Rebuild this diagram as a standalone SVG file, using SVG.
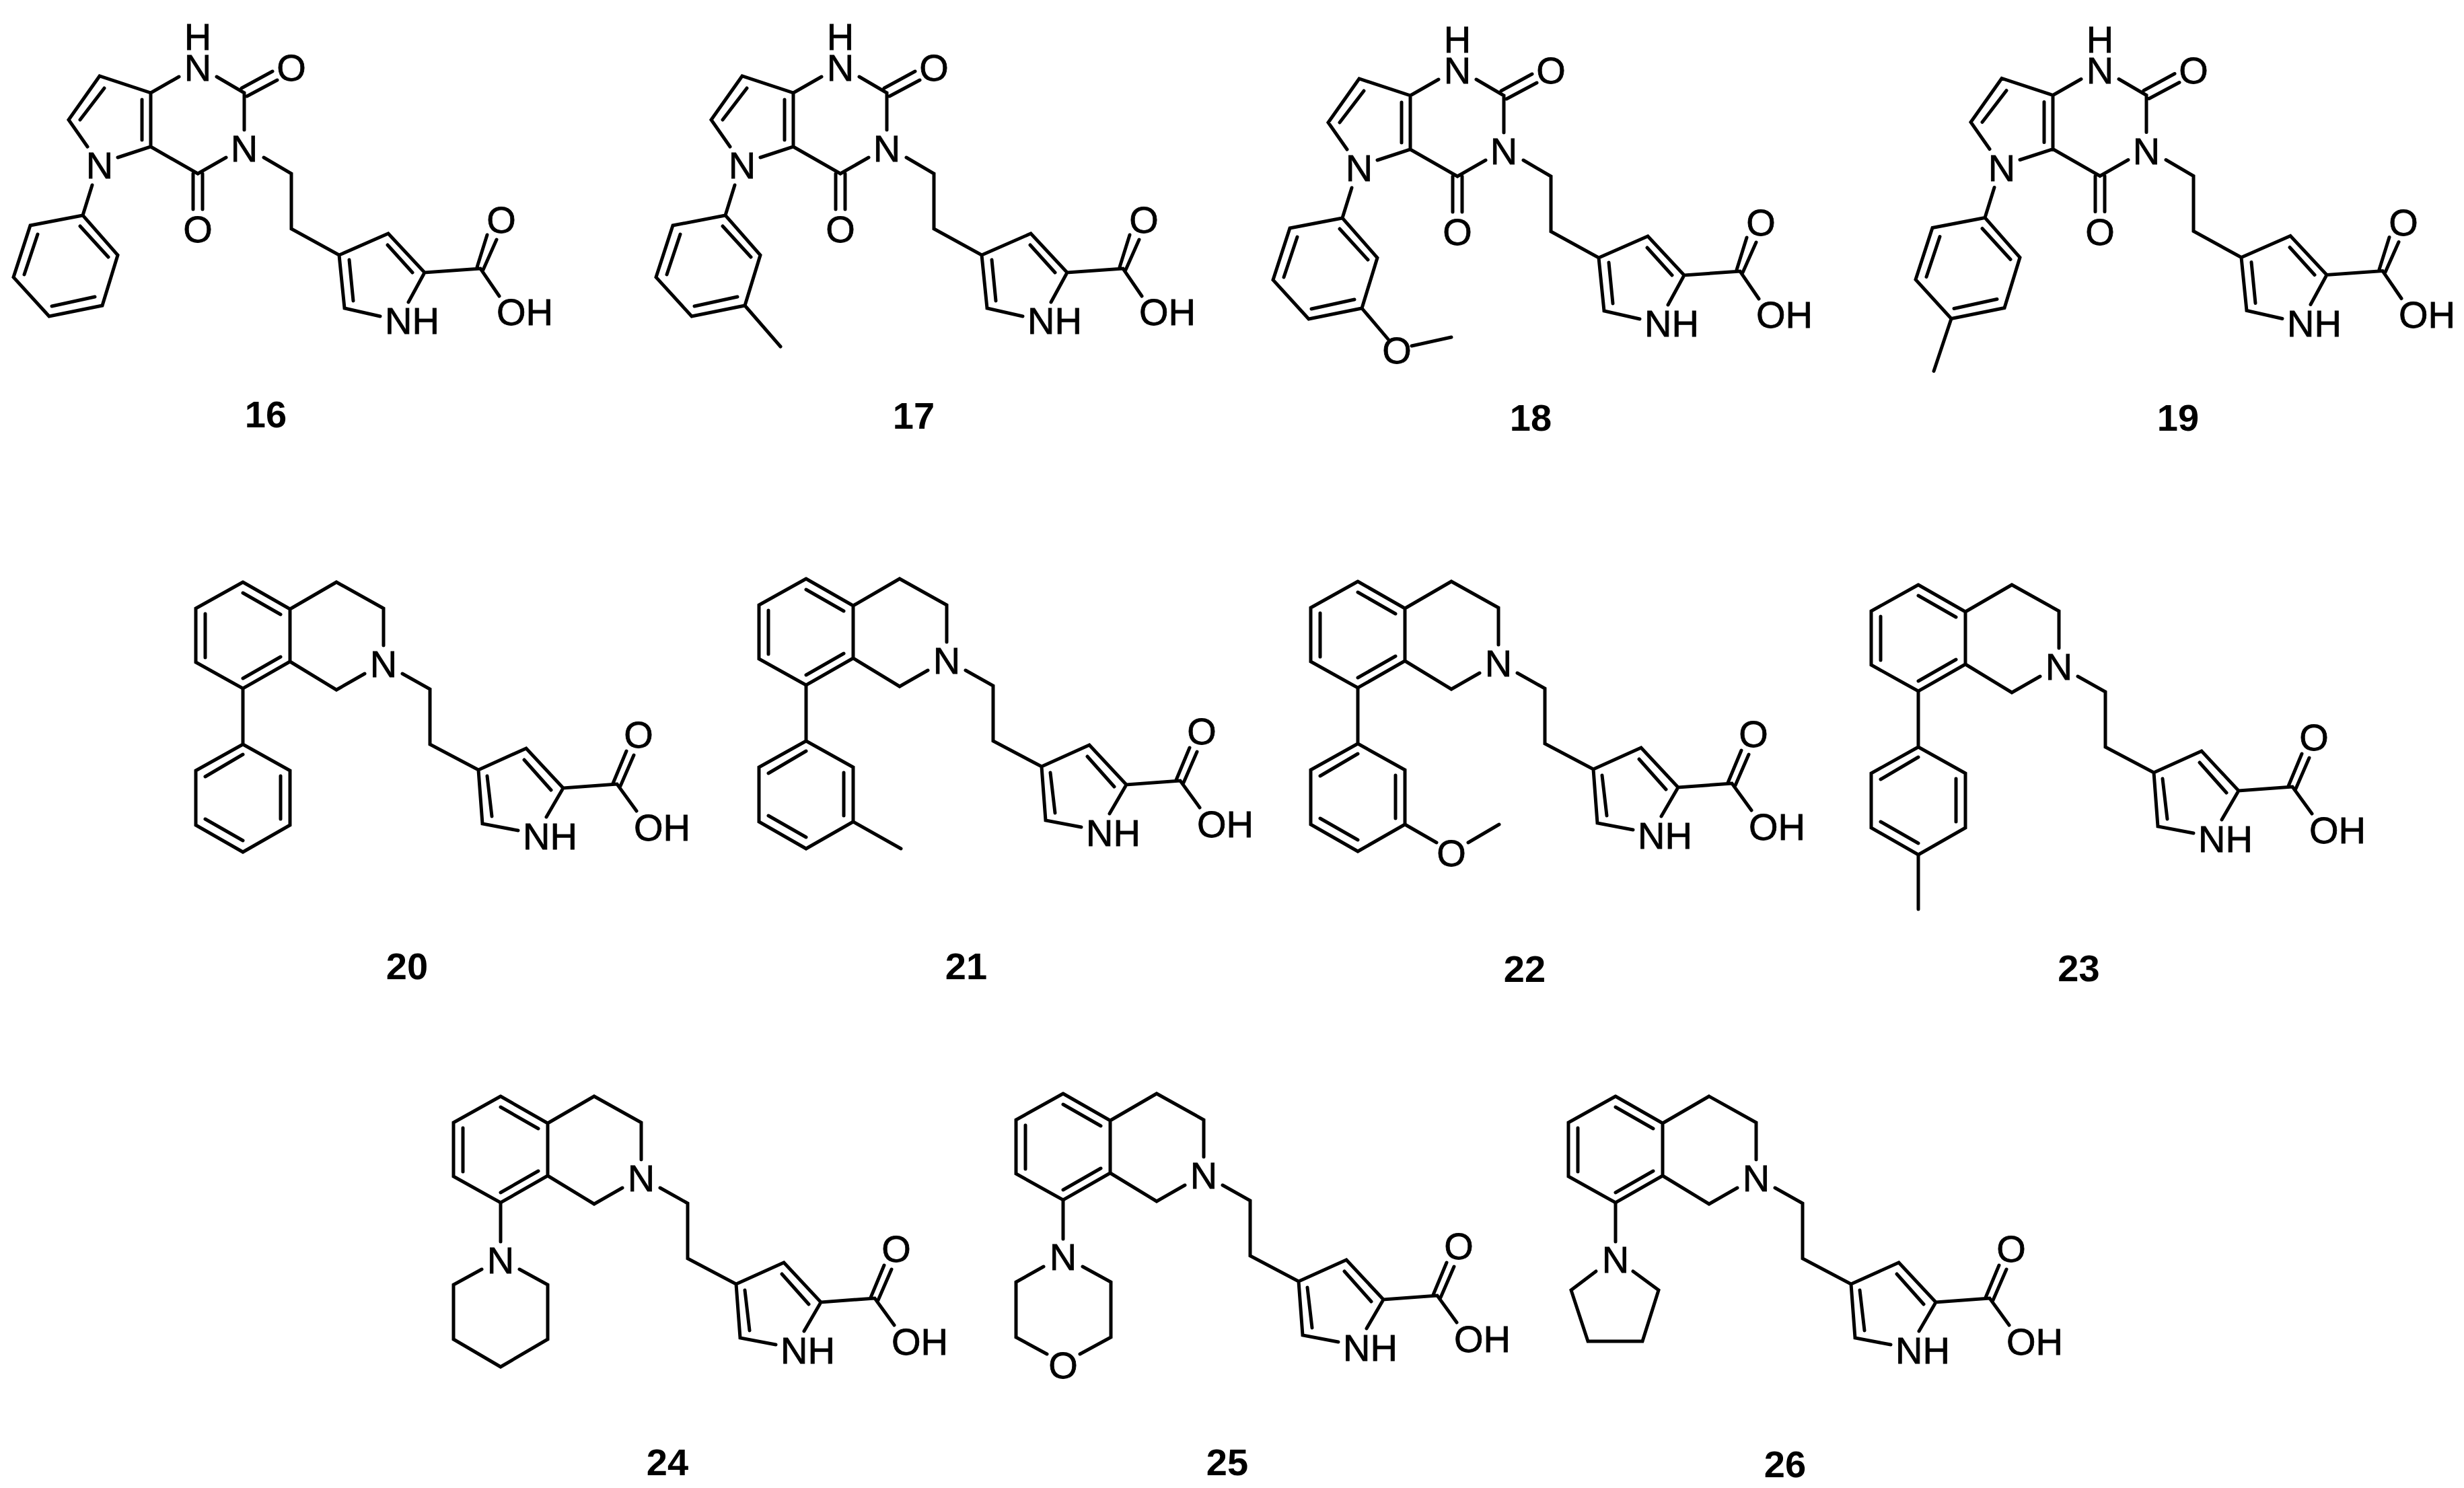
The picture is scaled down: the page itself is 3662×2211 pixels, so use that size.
<svg xmlns="http://www.w3.org/2000/svg" xmlns:xlink="http://www.w3.org/1999/xlink" width="3662" height="2211" viewBox="0 0 3662 2211">
<style>
.b{fill:none;stroke:#000;stroke-width:5;stroke-linecap:round;stroke-linejoin:miter}
text{font-family:"Liberation Sans",Arial,sans-serif;fill:#000}
.a{font-size:56px;text-anchor:middle;stroke:#000;stroke-width:.8px}
.s{font-size:56px;text-anchor:start;stroke:#000;stroke-width:.8px}
.l{font-size:56px;font-weight:bold;text-anchor:middle}
</style>
<defs>
<path id="coreA" d="M130 218L102 178L148 113L224 138L224 218L175 234M155 131L119 178M224 138L266 114M322 114L363 138L363 193M211 148L211 208M359 131L405 106M367 143L412 119M336 234L294 258L224 218M287 258L287 311M301 258L301 311M392 234L433 258L433 340L504 379L577 347L631 405L714 399L742 440M504 379L512 458L565 470M631 405L607 449M576 364L613 405M519 386L525 447M709 397L724 349M718 401L738 356M137 275L123 320L175 379L152 454L73 470L20 412L45 335L123 320M119 336L161 382M141 441L77 455M36 408L56 348"/>
<path id="coreB" d="M361 865L431 905L431 983L361 1023L291 984L291 904L361 865M361 881L417 913M417 976L361 1008M305 912L305 977M431 905L500 865L570 904L570 959M431 983L500 1025L542 1001M598 1001L639 1024L639 1106L711 1144L782 1112L837 1171L917 1165L946 1205M711 1144L717 1224L770 1234M837 1171L812 1214M779 1129L819 1174M724 1153L731 1213M911 1164L931 1116M922 1168L942 1122"/>
<path id="arylB" d="M361 1023L361 1106L431 1145L431 1226L361 1266L291 1226L291 1145L361 1106M417 1153L417 1217M361 1249L305 1217M305 1154L361 1121"/>
</defs>
<rect width="3662" height="2211" fill="#fff"/>
<g id="bonds" class="b">
<use href="#coreA"/>
<g transform="translate(955 0)"><use href="#coreA"/><path d="M152 454L205 515"/></g>
<g transform="translate(1872 4)"><use href="#coreA"/><path d="M152 454L191 500M226 510L285 497"/></g>
<g transform="translate(2827 3.5)"><use href="#coreA"/><path d="M73 470L47 548"/></g>
<use href="#coreB"/><use href="#arylB"/>
<g transform="translate(837 -5)"><use href="#coreB"/><use href="#arylB"/><path d="M431 1226L502 1266"/></g>
<g transform="translate(1657 -1)"><use href="#coreB"/><use href="#arylB"/><path d="M431 1226L478 1253M525 1253L571 1226"/></g>
<g transform="translate(2490 4)"><use href="#coreB"/><use href="#arylB"/><path d="M361 1266L361 1347"/></g>
<g transform="translate(383 764)"><use href="#coreB"/><path d="M361 1023L361 1081M333 1122L291 1145L291 1226L361 1267L431 1226L431 1145L389 1122"/></g>
<g transform="translate(1219 760)"><use href="#coreB"/><path d="M361 1023L361 1081M332 1122L291 1145L291 1227L337 1252M386 1252L432 1227L432 1145L390 1122"/></g>
<g transform="translate(2040 764)"><use href="#coreB"/><path d="M361 1023L361 1081M332 1125L295 1153L320 1229L401 1229L425 1153L387 1125"/></g>
</g>
<g id="compound-16"><text class="a" x="148" y="265">N</text><text class="a"><tspan x="294" y="74">H</tspan><tspan x="294" y="120">N</tspan></text><text class="a" x="433" y="120">O</text><text class="a" x="363" y="240">N</text><text class="a" x="294" y="360">O</text><text class="s" x="572" y="496">NH</text><text class="a" x="745" y="346">O</text><text class="s" x="738" y="483">OH</text><text class="l" x="395" y="635">16</text></g>
<g id="compound-17" transform="translate(955 0)"><text class="a" x="148" y="265">N</text><text class="a"><tspan x="294" y="74">H</tspan><tspan x="294" y="120">N</tspan></text><text class="a" x="433" y="120">O</text><text class="a" x="363" y="240">N</text><text class="a" x="294" y="360">O</text><text class="s" x="572" y="496">NH</text><text class="a" x="745" y="346">O</text><text class="s" x="738" y="483">OH</text><text class="l" x="403" y="637">17</text></g>
<g id="compound-18" transform="translate(1872 4)"><text class="a" x="148" y="265">N</text><text class="a"><tspan x="294" y="74">H</tspan><tspan x="294" y="120">N</tspan></text><text class="a" x="433" y="120">O</text><text class="a" x="363" y="240">N</text><text class="a" x="294" y="360">O</text><text class="a" x="204" y="536">O</text><text class="s" x="572" y="496">NH</text><text class="a" x="745" y="346">O</text><text class="s" x="738" y="483">OH</text><text class="l" x="403" y="636">18</text></g>
<g id="compound-19" transform="translate(2827 3.5)"><text class="a" x="148" y="265">N</text><text class="a"><tspan x="294" y="74">H</tspan><tspan x="294" y="120">N</tspan></text><text class="a" x="433" y="120">O</text><text class="a" x="363" y="240">N</text><text class="a" x="294" y="360">O</text><text class="s" x="572" y="496">NH</text><text class="a" x="745" y="346">O</text><text class="s" x="738" y="483">OH</text><text class="l" x="410" y="636.5">19</text></g>
<g id="compound-20"><text class="a" x="570" y="1006">N</text><text class="s" x="777" y="1262">NH</text><text class="a" x="949" y="1111">O</text><text class="s" x="942" y="1249">OH</text><text class="l" x="605" y="1455">20</text></g>
<g id="compound-21" transform="translate(837 -5)"><text class="a" x="570" y="1006">N</text><text class="s" x="777" y="1262">NH</text><text class="a" x="949" y="1111">O</text><text class="s" x="942" y="1249">OH</text><text class="l" x="599" y="1460">21</text></g>
<g id="compound-22" transform="translate(1657 -1)"><text class="a" x="570" y="1006">N</text><text class="s" x="777" y="1262">NH</text><text class="a" x="949" y="1111">O</text><text class="s" x="942" y="1249">OH</text><text class="a" x="500" y="1288">O</text><text class="l" x="609" y="1460">22</text></g>
<g id="compound-23" transform="translate(2490 4)"><text class="a" x="570" y="1006">N</text><text class="s" x="777" y="1262">NH</text><text class="a" x="949" y="1111">O</text><text class="s" x="942" y="1249">OH</text><text class="l" x="599.5" y="1454">23</text></g>
<g id="compound-24" transform="translate(383 764)"><text class="a" x="570" y="1006">N</text><text class="s" x="777" y="1262">NH</text><text class="a" x="949" y="1111">O</text><text class="s" x="942" y="1249">OH</text><text class="a" x="361" y="1128">N</text><text class="l" x="609" y="1428">24</text></g>
<g id="compound-25" transform="translate(1219 760)"><text class="a" x="570" y="1006">N</text><text class="s" x="777" y="1262">NH</text><text class="a" x="949" y="1111">O</text><text class="s" x="942" y="1249">OH</text><text class="a" x="361" y="1127">N</text><text class="a" x="361" y="1288">O</text><text class="l" x="605" y="1432">25</text></g>
<g id="compound-26" transform="translate(2040 764)"><text class="a" x="570" y="1006">N</text><text class="s" x="777" y="1262">NH</text><text class="a" x="949" y="1111">O</text><text class="s" x="942" y="1249">OH</text><text class="a" x="361" y="1127">N</text><text class="l" x="613" y="1431">26</text></g>
</svg>
